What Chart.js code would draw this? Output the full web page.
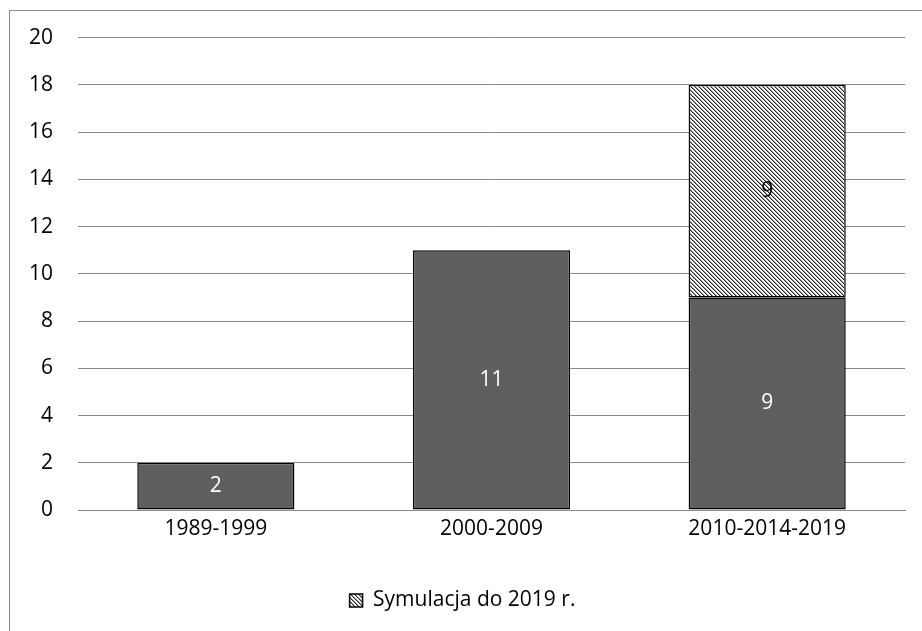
<!DOCTYPE html>
<html><head><meta charset="utf-8">
<script src="https://cdn.jsdelivr.net/npm/chart.js@4"></script>
<style>html,body{margin:0;padding:0;background:#fff}#wrap{width:922px;height:631px;position:relative}</style>
</head><body><div id="wrap"><canvas id="c" width="922" height="631"></canvas></div>
<script>
const categories = ['1989-1999', '2000-2009', '2010-2014-2019'];
const actualValues = [2, 11, 9];
const simulationValues = [null, null, 9];
const simulationLabel = 'Symulacja do 2019 r.';
const yTicks = [0, 2, 4, 6, 8, 10, 12, 14, 16, 18, 20];

function makeHatch() {
  const s = 8;
  const cv = document.createElement('canvas');
  cv.width = s; cv.height = s;
  const cx = cv.getContext('2d');
  const img = cx.createImageData(s, s);
  for (let y = 0; y < s; y++) for (let x = 0; x < s; x++) {
    const m = ((x - y) % 4 + 4) % 4;
    const v = m === 0 ? 40 : (m === 1 ? 150 : 255);
    const i = (y * s + x) * 4;
    img.data[i] = v; img.data[i+1] = v; img.data[i+2] = v; img.data[i+3] = 255;
  }
  cx.putImageData(img, 0, 0);
  return document.getElementById('c').getContext('2d').createPattern(cv, 'repeat');
}
const hatch = makeHatch();
const FONT = "'Open Sans', 'Liberation Sans', sans-serif";
const FS = 21;

const framePlugin = {
  id: 'frame',
  beforeDraw(chart) {
    const ctx = chart.ctx;
    ctx.save();
    ctx.strokeStyle = '#8a8a8a';
    ctx.lineWidth = 1;
    ctx.strokeRect(9.5, 10.5, 930, 640);
    ctx.restore();
  }
};
const labelPlugin = {
  id: 'vlabels',
  afterDatasetsDraw(chart) {
    const ctx = chart.ctx;
    ctx.save();
    ctx.font = FS + 'px ' + FONT;
    ctx.textAlign = 'center';
    ctx.textBaseline = 'middle';
    chart.data.datasets.forEach((ds, di) => {
      const meta = chart.getDatasetMeta(di);
      meta.data.forEach((bar, i) => {
        const v = ds.data[i];
        if (v == null) return;
        const p = bar.getProps(['x', 'y', 'base'], true);
        ctx.fillStyle = di === 0 ? '#ffffff' : '#000000';
        ctx.fillText(String(v), p.x, (p.y + p.base) / 2);
      });
    });
    ctx.restore();
  }
};

new Chart(document.getElementById('c'), {
  type: 'bar',
  data: {
    labels: categories,
    datasets: [
      { label: 'Rzeczywiste', data: actualValues, backgroundColor: '#5f5f5f', borderColor: '#000', borderWidth: 1.5, borderSkipped: false, categoryPercentage: 0.57, barPercentage: 1 },
      { label: simulationLabel, data: simulationValues, backgroundColor: hatch, borderColor: '#000', borderWidth: 1.5, borderSkipped: false, categoryPercentage: 0.57, barPercentage: 1 }
    ]
  },
  options: {
    responsive: false,
    animation: false,
    layout: { padding: { left: 20, right: 17, top: 31, bottom: 10 } },
    plugins: {
      legend: {
        position: 'bottom',
        labels: {
          filter: (item) => item.datasetIndex === 1,
          boxWidth: 13, boxHeight: 13, padding: 10,
          color: '#000', font: { family: FONT, size: FS }
        }
      },
      tooltip: { enabled: false }
    },
    scales: {
      x: {
        stacked: true,
        grid: { display: false, drawTicks: false },
        border: { color: '#8a8a8a', width: 1 },
        afterFit: (s) => { s.height = 70; },
        ticks: { color: '#000', font: { family: FONT, size: FS }, padding: 6 }
      },
      y: {
        stacked: true,
        min: 0, max: 20,
        afterBuildTicks: (s) => { s.ticks = yTicks.map(v => ({ value: v })); },
        afterFit: (s) => { s.width = 58; },
        grid: { color: '#8a8a8a', drawTicks: false },
        border: { display: false },
        ticks: { color: '#000', font: { family: FONT, size: FS }, padding: 25 }
      }
    }
  },
  plugins: [framePlugin, labelPlugin]
});
</script></body></html>
